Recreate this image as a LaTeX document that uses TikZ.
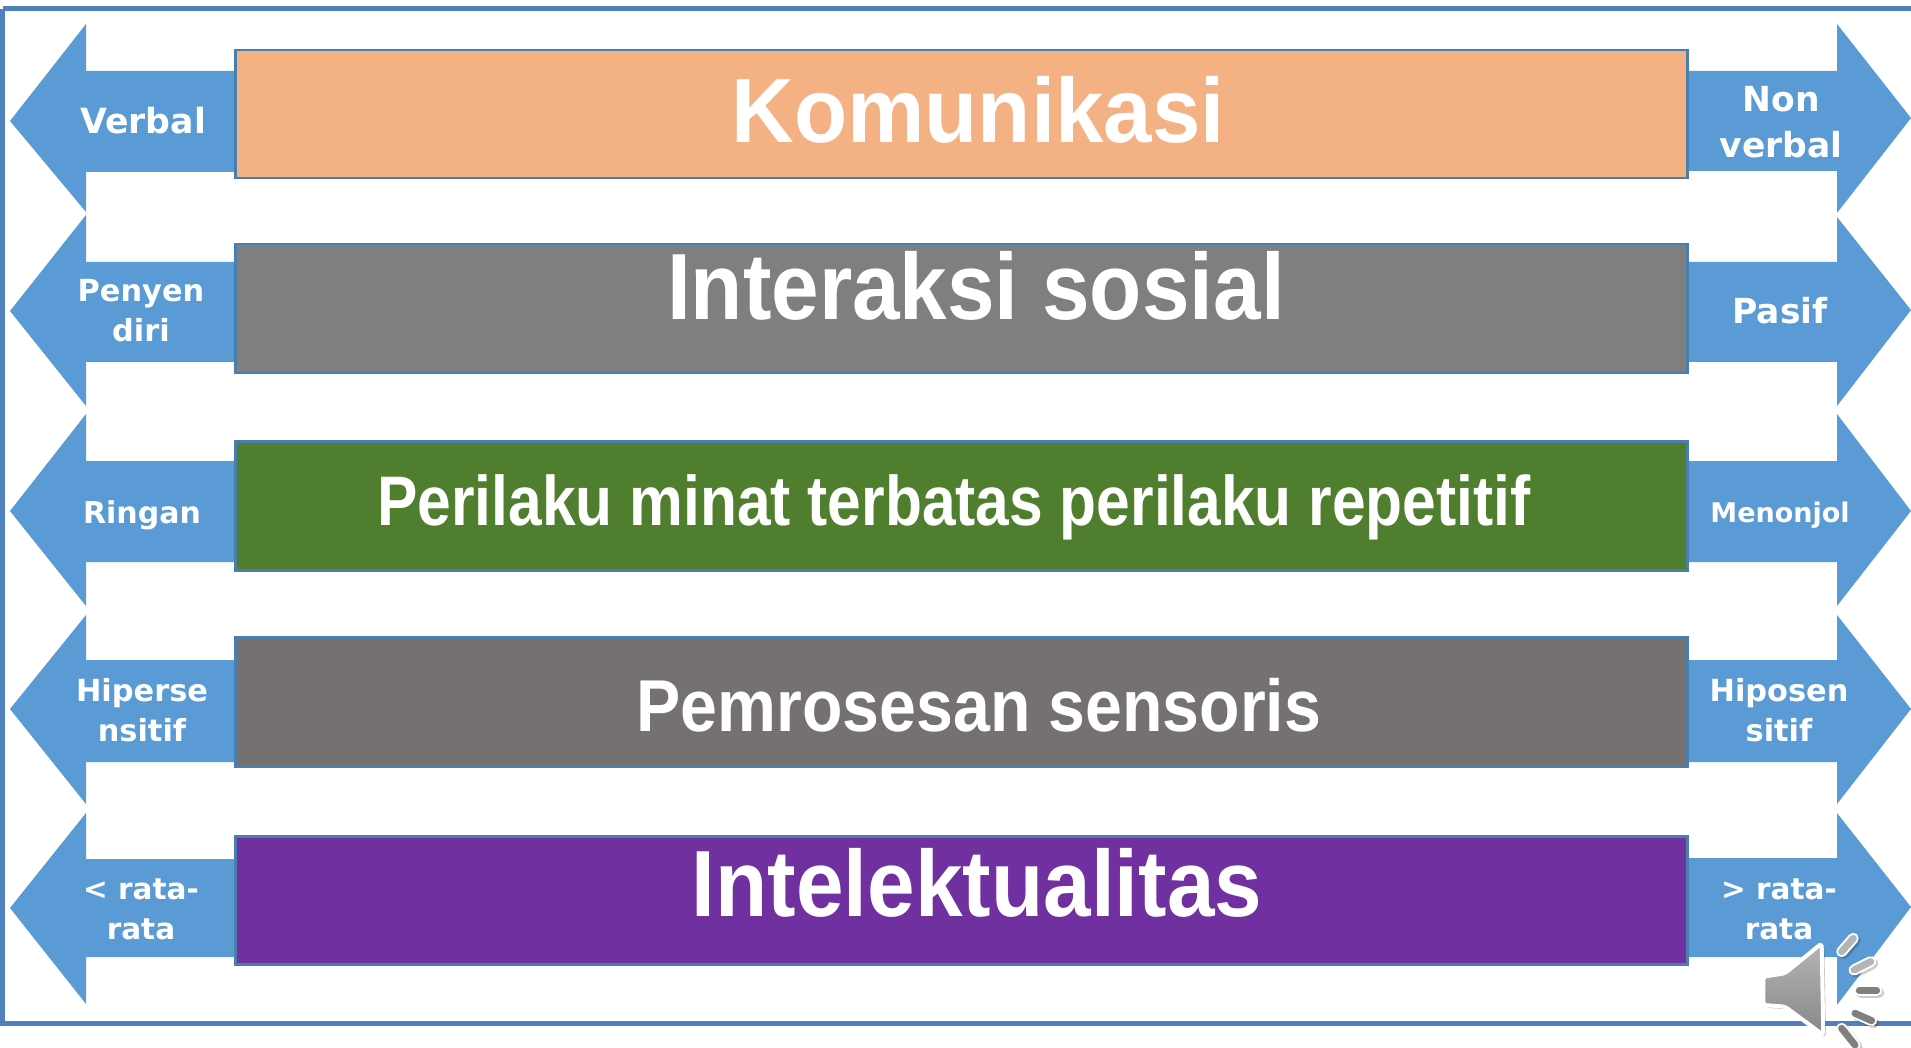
\documentclass[tikz,border=0pt]{standalone}
\usepackage{fontspec}
\setmainfont{Liberation Sans}
\newfontfamily\arrowfont{DejaVu Sans}
\usetikzlibrary{calc}
\definecolor{framecol}{HTML}{4F81BD}
\definecolor{arrowcol}{HTML}{5B9BD5}
\definecolor{edgecol}{HTML}{4A7EAF}
\definecolor{orangecol}{HTML}{F4B183}
\definecolor{graycol}{HTML}{7F7F7F}
\definecolor{greencol}{HTML}{4F7F2E}
\definecolor{darkgray}{HTML}{767171}
\definecolor{purplecol}{HTML}{7030A0}
\definecolor{speakertop}{HTML}{B4B5B7}
\definecolor{speakerbot}{HTML}{85878A}
\tikzset{
  barbox/.style={draw=edgecol,line width=2.5pt,minimum width=1452pt,inner sep=0pt,anchor=north west},
  bigtext/.style={text=white,font=\bfseries,inner sep=0pt,anchor=center},
  sidetext/.style={text=white,inner sep=0pt,align=center,anchor=center},
  ray/.style={line cap=round,line width=#1},
}
\newcommand{\leftarr}[5]{% top, shaft top, mid, shaft bottom, bottom
  \fill[arrowcol] (236,#2) -- (86,#2) -- (86,#1) -- (10,#3) -- (86,#5) -- (86,#4) -- (236,#4) -- cycle;}
\newcommand{\rightarr}[5]{%
  \fill[arrowcol] (1686,#2) -- (1837,#2) -- (1837,#1) -- (1911,#3) -- (1837,#5) -- (1837,#4) -- (1686,#4) -- cycle;}
\newcommand{\barsize}[1]{\fontsize{#1}{#1}\selectfont}
\newcommand{\sidefont}[2]{\arrowfont\bfseries\fontsize{#1}{#2}\selectfont}
\begin{document}
\begin{tikzpicture}[x=1pt,y=-1pt]
\useasboundingbox (0,0) rectangle (1911,1048);
\fill[white] (0,0) rectangle (1911,1048);
% frame
\draw[framecol,line width=5pt] (2.5,9) -- (1911,9);
\draw[framecol,line width=5pt] (2.5,9) -- (2.5,1023) -- (1911,1023);
% arrows
\leftarr{24}{71}{121}{172}{212}
\leftarr{215}{262}{311}{362}{406}
\leftarr{414}{461}{511}{562}{606}
\leftarr{615}{660}{709}{762}{804}
\leftarr{813}{859}{908}{957}{1004}
\rightarr{24}{71}{118}{171}{213}
\rightarr{217}{262}{310}{362}{406}
\rightarr{414}{461}{511}{562}{606}
\rightarr{615}{660}{709}{762}{804}
\rightarr{813}{858}{907}{957}{1005}
% bars
\node[barbox,fill=orangecol,minimum height=128pt] (b1) at (234,49) {};
\node[barbox,fill=graycol,minimum height=129pt] (b2) at (234,243) {};
\node[barbox,fill=greencol,minimum height=129pt] (b3) at (234,440) {};
\node[barbox,fill=darkgray,minimum height=129pt] (b4) at (234,636) {};
\node[barbox,fill=purplecol,minimum height=128pt] (b5) at (234,835) {};
% titles
\node[bigtext] (t1) at (978,110) {\barsize{87}\scalebox{1}[1.05]{Komunikasi}};
\node[bigtext] (t2) at (976,286) {\barsize{85.5}\scalebox{1}[1.1]{Interaksi sosial}};
\node[bigtext] (t3) at (954,507) {\barsize{60.5}\scalebox{1}[1.16]{Perilaku minat terbatas perilaku repetitif}};
\node[bigtext] (t4) at (979,705) {\barsize{66.2}\scalebox{1}[1.11]{Pemrosesan sensoris}};
\node[bigtext] (t5) at (977,883) {\barsize{85.5}\scalebox{1}[1.1]{Intelektualitas}};
% side labels
\node[sidetext,font=\sidefont{34.7}{34}] (l1) at (143,121) {Verbal};
\node[sidetext,font=\sidefont{30.4}{40}] (l2) at (141,311) {Penyen\\diri};
\node[sidetext,font=\sidefont{30}{40}] (l3) at (142,515) {Ringan};
\node[sidetext,font=\sidefont{30.4}{40}] (l4) at (142,710) {Hiperse\\nsitif};
\node[sidetext,font=\sidefont{29.5}{40}] (l5) at (141,909) {< rata-\\rata};
\node[sidetext,font=\sidefont{34.5}{46}] (r1) at (1781,122) {Non\\verbal};
\node[sidetext,font=\sidefont{34.5}{46}] (r2) at (1780,311) {Pasif};
\node[sidetext,font=\sidefont{27}{40}] (r3) at (1780,515) {Menonjol};
\node[sidetext,font=\sidefont{30.4}{40}] (r4) at (1779,710) {Hiposen\\sitif};
\node[sidetext,font=\sidefont{29.5}{40}] (r5) at (1779,909) {> rata-\\rata};
% speaker icon
\begin{scope}[shift={(1600,780)},x=0.3333pt,y=-0.3333pt]
  \def\spk{(490,590) -- (555,580) -- (665,490) -- (670,765) -- (555,680) -- (490,675) -- cycle}
  \fill[black,opacity=.25,shift={(8,8)},rounded corners=4pt] \spk;
  \draw[white,line width=4pt,line join=round,top color=speakertop,bottom color=speakerbot,rounded corners=3pt] \spk;
  \foreach \a/\b/\c/\d/\col in {725/515/760/475/speakertop,762/570/812/545/speakertop,778/632/830/632/graycol,765/700/815/722/graycol,725/745/765/795/graycol}{
    \draw[black,opacity=.2,ray=11pt] (\a+6,\b+6) -- (\c+6,\d+6);
    \draw[white,ray=11pt] (\a,\b) -- (\c,\d);
    \draw[\col,ray=7pt] (\a,\b) -- (\c,\d);
  }
\end{scope}
\end{tikzpicture}
\end{document}
